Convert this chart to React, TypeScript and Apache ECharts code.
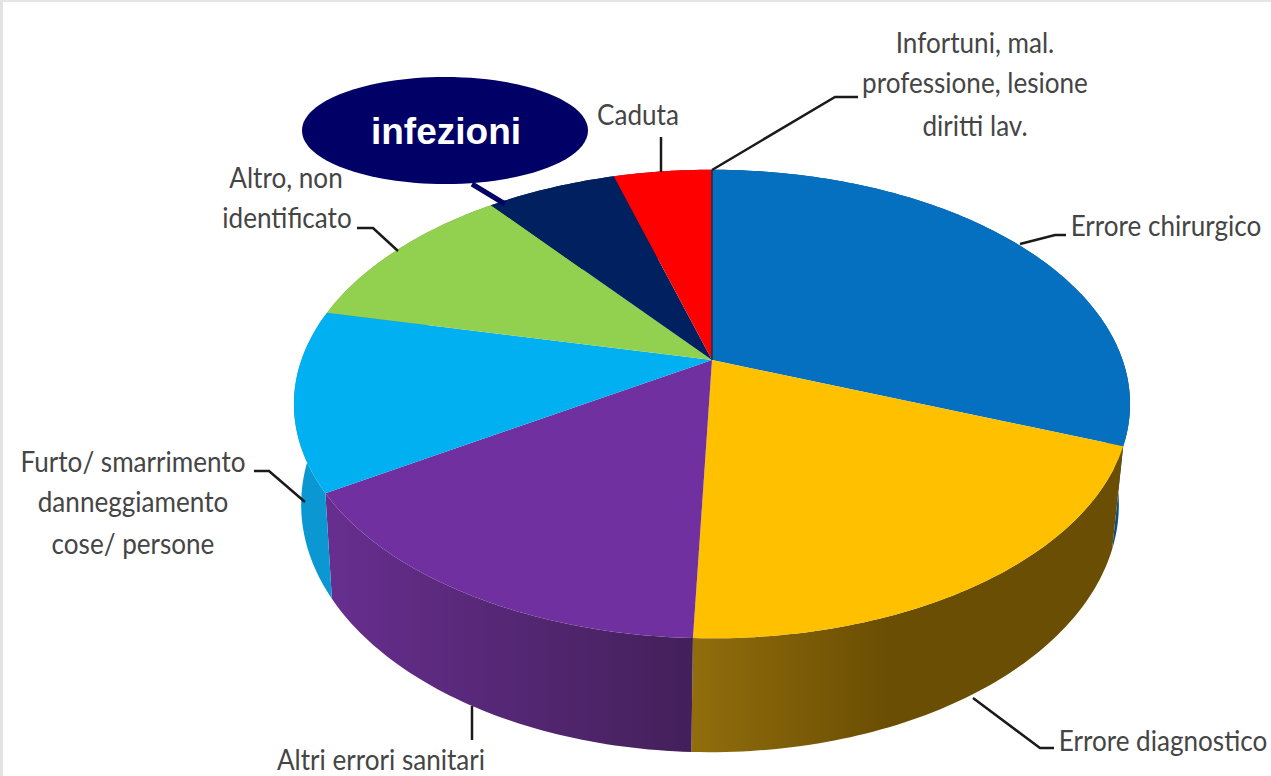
import React, { useEffect, useRef } from "react";
import * as echarts from "echarts";

const categories = [
  "Errore chirurgico",
  "Errore diagnostico",
  "Altri errori sanitari",
  "Furto/ smarrimento danneggiamento cose/ persone",
  "Altro, non identificato",
  "infezioni",
  "Caduta",
];
const shares = [30.8, 19.8, 15.5, 12.4, 10.9, 6.05, 4.55];
const topColors = ["#0570c0", "#ffc000", "#7030a0", "#00b0f0", "#92d050", "#002060", "#ff0000"];
const wallFrom = ["#0a4f80", "#916d0c", "#672e8f", "#0b98d2", "#6f9c3d", "#001a4a", "#b00000"];
const wallTo = ["#0a4f80", "#6a4e03", "#43205a", "#0b98d2", "#6f9c3d", "#001a4a", "#b00000"];
const wallGradientStop = [1, 0.45, 1, 1, 1, 1, 1];

// Projection of the disc
const APEX_X = 712;
const APEX_Y = 360;
const SCALE_X = 410.6;
const SCALE_Y = 226;
const PERSPECTIVE = 0.188;
const LOWER_APEX_X = 710;
const LOWER_X = 0.978;
const LOWER_Y = 1.057;
const LOWER_APEX_Y = 458;
const STEP = (Math.PI * 2) / 360;

const total = shares.reduce((a, b) => a + b, 0);

function angleRange(index: number): [number, number] {
  let sum = 0;
  for (let i = 0; i < index; i++) sum += shares[i];
  return [(sum / total) * Math.PI * 2, ((sum + shares[index]) / total) * Math.PI * 2];
}

function topPoint(t: number): [number, number] {
  const u = Math.sin(t);
  const v = Math.cos(t);
  const w = 1 + PERSPECTIVE * v;
  return [APEX_X + (SCALE_X * u) / w, APEX_Y - (SCALE_Y * v) / w];
}

function lowerPoint(t: number): [number, number] {
  const [x, y] = topPoint(t);
  return [LOWER_APEX_X + (x - APEX_X) * LOWER_X, LOWER_APEX_Y + (y - APEX_Y) * LOWER_Y];
}

function arc(a: number, b: number, fn: (t: number) => [number, number]) {
  const pts: [number, number][] = [];
  const n = Math.max(2, Math.ceil((b - a) / STEP));
  for (let i = 0; i <= n; i++) pts.push(fn(a + ((b - a) * i) / n));
  return pts;
}

const FONT = "Lato, 'Open Sans', sans-serif";
const TEXT_COLOR = "#454545";
const labelLayout: { text: string; x: number; y: number }[] = [
  { text: "Infortuni, mal.", x: 975, y: 41.5 },
  { text: "professione, lesione", x: 975, y: 81.5 },
  { text: "diritti lav.", x: 975, y: 124.5 },
  { text: "Caduta", x: 638, y: 113.5 },
  { text: "Altro, non", x: 286, y: 176.5 },
  { text: "identificato", x: 287, y: 216.5 },
  { text: "Errore chirurgico", x: 1166, y: 224.5 },
  { text: "Furto/ smarrimento", x: 133, y: 460.5 },
  { text: "danneggiamento", x: 133, y: 500.5 },
  { text: "cose/ persone", x: 133, y: 542.5 },
  { text: "Altri errori sanitari", x: 381, y: 759 },
  { text: "Errore diagnostico", x: 1163, y: 739.5 },
];
const leaders: [number, number][][] = [
  [[712, 170], [835, 97], [858, 97]],
  [[661, 137], [661, 172]],
  [[357, 228], [373, 228], [398, 251]],
  [[1020, 244], [1055, 235], [1066, 235]],
  [[254, 471], [269, 471], [305, 502]],
  [[472, 706], [472, 740]],
  [[973, 698], [1040, 748], [1054, 748]],
];

export default function App() {
  const ref = useRef<HTMLDivElement>(null);
  useEffect(() => {
    document.body.style.margin = "0";
    const chart = echarts.init(ref.current!, undefined, { renderer: "svg" });
    const data = shares.map((v) => [v]);
    chart.setOption({
      animation: false,
      backgroundColor: "#ffffff",
      series: [
        {
          type: "custom",
          coordinateSystem: "none",
          silent: true,
          z: 1,
          data,
          renderItem: (params: any) => {
            const i = params.dataIndex;
            const [a, b] = angleRange(i);
            const upper = arc(a, b, topPoint);
            const lower = arc(a, b, lowerPoint).reverse();
            const xs = upper.map((p) => p[0]);
            const x0 = Math.min(...xs);
            const x1 = Math.max(...xs);
            return {
              type: "polygon",
              shape: { points: [...upper, ...lower] },
              style: {
                fill: new echarts.graphic.LinearGradient(
                  x0, 0, x1, 0,
                  [
                    { offset: 0, color: wallFrom[i] },
                    { offset: wallGradientStop[i], color: wallTo[i] },
                    { offset: 1, color: wallTo[i] },
                  ],
                  true
                ),
              },
            };
          },
        },
        {
          type: "custom",
          coordinateSystem: "none",
          silent: true,
          z: 2,
          data,
          renderItem: (params: any) => {
            const i = params.dataIndex;
            const [a, b] = angleRange(i);
            return {
              type: "polygon",
              shape: { points: [[APEX_X, APEX_Y], ...arc(a, b, topPoint)] },
              style: { fill: topColors[i] },
            };
          },
        },
      ],
      graphic: [
        { type: "rect", z: 5, shape: { x: 0, y: 0, width: 1271, height: 2 }, style: { fill: "#e6e6e6" } },
        { type: "rect", z: 5, shape: { x: 0, y: 0, width: 3, height: 776 }, style: { fill: "#e2e2e2" } },
        { type: "line", z: 6, shape: { x1: APEX_X, y1: 170, x2: APEX_X, y2: APEX_Y }, style: { stroke: "#12304f", lineWidth: 1.5 } },
        ...leaders.map((points) => ({
          type: "polyline",
          z: 6,
          shape: { points },
          style: { stroke: "#1a1a1a", lineWidth: 2.5, fill: "none" },
        })),
        { type: "line", z: 7, shape: { x1: 472, y1: 184, x2: 505, y2: 204 }, style: { stroke: "#000066", lineWidth: 5 } },
        { type: "ellipse", z: 8, shape: { cx: 445, cy: 130.5, rx: 143, ry: 53.5 }, style: { fill: "#000066" } },
        {
          type: "text",
          z: 9,
          x: 446,
          y: 131,
          style: {
            text: categories[5],
            fill: "#ffffff",
            font: "bold 37px 'Liberation Sans', Arial, sans-serif",
            align: "center",
            verticalAlign: "middle",
          },
        },
        ...labelLayout.map((l) => ({
          type: "text",
          z: 9,
          x: l.x,
          y: l.y,
          scaleX: 0.9,
          style: {
            text: l.text,
            fill: TEXT_COLOR,
            font: `29px ${FONT}`,
            align: "center",
            verticalAlign: "middle",
          },
        })),
      ],
    });
    return () => chart.dispose();
  }, []);
  return <div ref={ref} style={{ position: "absolute", left: 0, top: 0, width: 1271, height: 776 }} />;
}
